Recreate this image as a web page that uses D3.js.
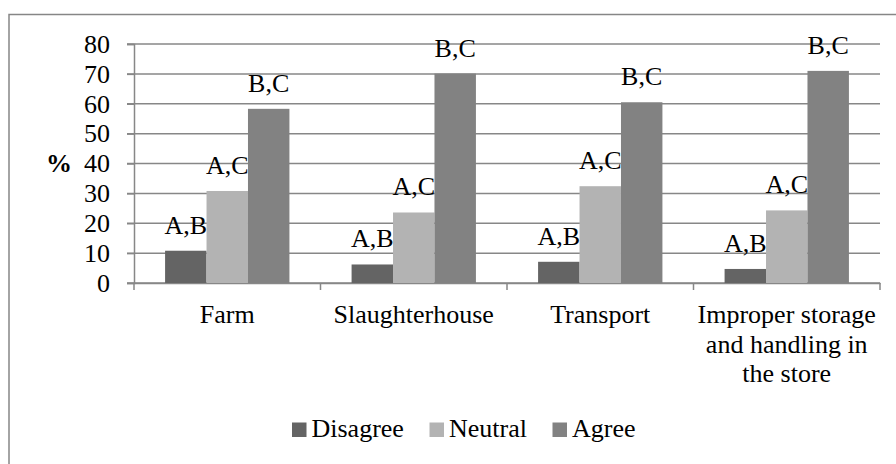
<!DOCTYPE html>
<html>
<head>
<meta charset="utf-8">
<script src="https://cdn.jsdelivr.net/npm/d3@7"></script>
<style>
  body { margin: 0; background: #fff; }
  text { font-family: "Liberation Serif", "Times New Roman", serif; fill: #000; }
</style>
</head>
<body>
<svg id="plot"></svg>
<script>
var width = 896;
var height = 464;

var categories = ["Farm", "Slaughterhouse", "Transport", "Improper storage and handling in the store"];
var categoryLines = [["Farm"], ["Slaughterhouse"], ["Transport"], ["Improper storage", "and handling in", "the store"]];
var series = ["Disagree", "Neutral", "Agree"];
var disagree = [10.8, 6.2, 7.1, 4.7];
var neutral = [30.8, 23.6, 32.4, 24.3];
var agree = [58.3, 70.1, 60.5, 71.0];
var sigLabels = ["A,B", "A,C", "B,C"];
var yTicks = [0, 10, 20, 30, 40, 50, 60, 70, 80];
var colors = ["#646464", "#b3b3b3", "#828282"];

var values = [disagree, neutral, agree];

var svg = d3.select("#plot")
    .attr("width", width)
    .attr("height", height);

// outer frame (right and bottom edges sit outside the picture)
svg.append("rect")
    .attr("x", 9)
    .attr("y", 14.5)
    .attr("width", 1000)
    .attr("height", 1000)
    .attr("fill", "none")
    .attr("stroke", "#868686")
    .attr("stroke-width", 1.5);

var x0 = d3.scaleBand()
    .domain(categories)
    .range([134, 880])
    .paddingInner(0);
var x1 = d3.scaleBand()
    .domain(series)
    .range([0, x0.bandwidth()])
    .paddingInner(0)
    .paddingOuter(0.75);
var yScale = d3.scaleLinear()
    .domain([0, 80])
    .range([283, 44]);

// gridlines
svg.append("g")
    .selectAll("line")
    .data(yTicks)
    .enter()
    .append("line")
    .attr("x1", 127)
    .attr("x2", 880)
    .attr("y1", function (d) { return yScale(d); })
    .attr("y2", function (d) { return yScale(d); })
    .attr("stroke", "#878787")
    .attr("stroke-width", 1.5);

// y axis
var yAxis = svg.append("g")
    .attr("transform", "translate(134,0)")
    .call(d3.axisLeft(yScale).tickValues(yTicks).tickSize(7).tickPadding(17));
yAxis.select(".domain").attr("stroke", "#878787").attr("stroke-width", 1.5);
yAxis.selectAll(".tick line").attr("stroke", "#878787").attr("stroke-width", 1.5);
yAxis.selectAll(".tick text")
    .attr("font-size", 26)
    .attr("font-family", "Liberation Serif, Times New Roman, serif")
    .attr("fill", "#000");

// x axis
var xAxis = svg.append("g")
    .attr("transform", "translate(0,283)")
    .call(d3.axisBottom(x0).tickSize(0).tickFormat(""));
xAxis.select(".domain").attr("stroke", "#878787").attr("stroke-width", 1.5);
var boundaries = [0, 1, 2, 3, 4].map(function (i) { return 134 + i * x0.step(); });
svg.append("g")
    .selectAll("line")
    .data(boundaries)
    .enter()
    .append("line")
    .attr("x1", function (d) { return d; })
    .attr("x2", function (d) { return d; })
    .attr("y1", 283)
    .attr("y2", 290)
    .attr("stroke", "#878787")
    .attr("stroke-width", 1.5);

// category labels
svg.append("g")
    .selectAll("text")
    .data(categories)
    .enter()
    .append("text")
    .attr("text-anchor", "middle")
    .attr("font-size", 26)
    .attr("x", function (d) { return x0(d) + x0.bandwidth() / 2; })
    .attr("y", 323)
    .each(function (d, i) {
        var t = d3.select(this);
        categoryLines[i].forEach(function (line, j) {
            t.append("tspan")
                .attr("x", x0(d) + x0.bandwidth() / 2)
                .attr("dy", j == 0 ? 0 : 29.5)
                .text(line);
        });
    });

// bars
var groups = svg.append("g")
    .selectAll("g")
    .data(categories)
    .enter()
    .append("g")
    .attr("transform", function (d) { return "translate(" + x0(d) + ",0)"; });

groups.selectAll("rect")
    .data(function (d, i) { return series.map(function (s, j) { return {s: s, v: values[j][i], j: j}; }); })
    .enter()
    .append("rect")
    .attr("x", function (d) { return x1(d.s); })
    .attr("width", x1.bandwidth())
    .attr("y", function (d) { return yScale(d.v); })
    .attr("height", function (d) { return yScale(0) - yScale(d.v); })
    .attr("fill", function (d) { return colors[d.j]; });

groups.selectAll("text")
    .data(function (d, i) { return series.map(function (s, j) { return {s: s, v: values[j][i], j: j}; }); })
    .enter()
    .append("text")
    .attr("text-anchor", "middle")
    .attr("font-size", 26)
    .attr("x", function (d) { return x1(d.s) + x1.bandwidth() / 2; })
    .attr("y", function (d) { return yScale(d.v) - 17; })
    .text(function (d) { return sigLabels[d.j]; });

// y label
svg.append("text")
    .attr("x", 59)
    .attr("y", 172)
    .attr("text-anchor", "middle")
    .attr("font-size", 26)
    .attr("font-weight", "bold")
    .text("%");

// legend
var legendX = [292, 429.5, 552.5];
var legend = svg.append("g")
    .selectAll("g")
    .data(series)
    .enter()
    .append("g")
    .attr("transform", function (d, i) { return "translate(" + legendX[i] + ",0)"; });
legend.append("rect")
    .attr("x", 0)
    .attr("y", 422.5)
    .attr("width", 14.5)
    .attr("height", 14.5)
    .attr("fill", function (d, i) { return colors[i]; });
legend.append("text")
    .attr("x", 19.5)
    .attr("y", 437)
    .attr("font-size", 26)
    .text(function (d) { return d; });
</script>
</body>
</html>
